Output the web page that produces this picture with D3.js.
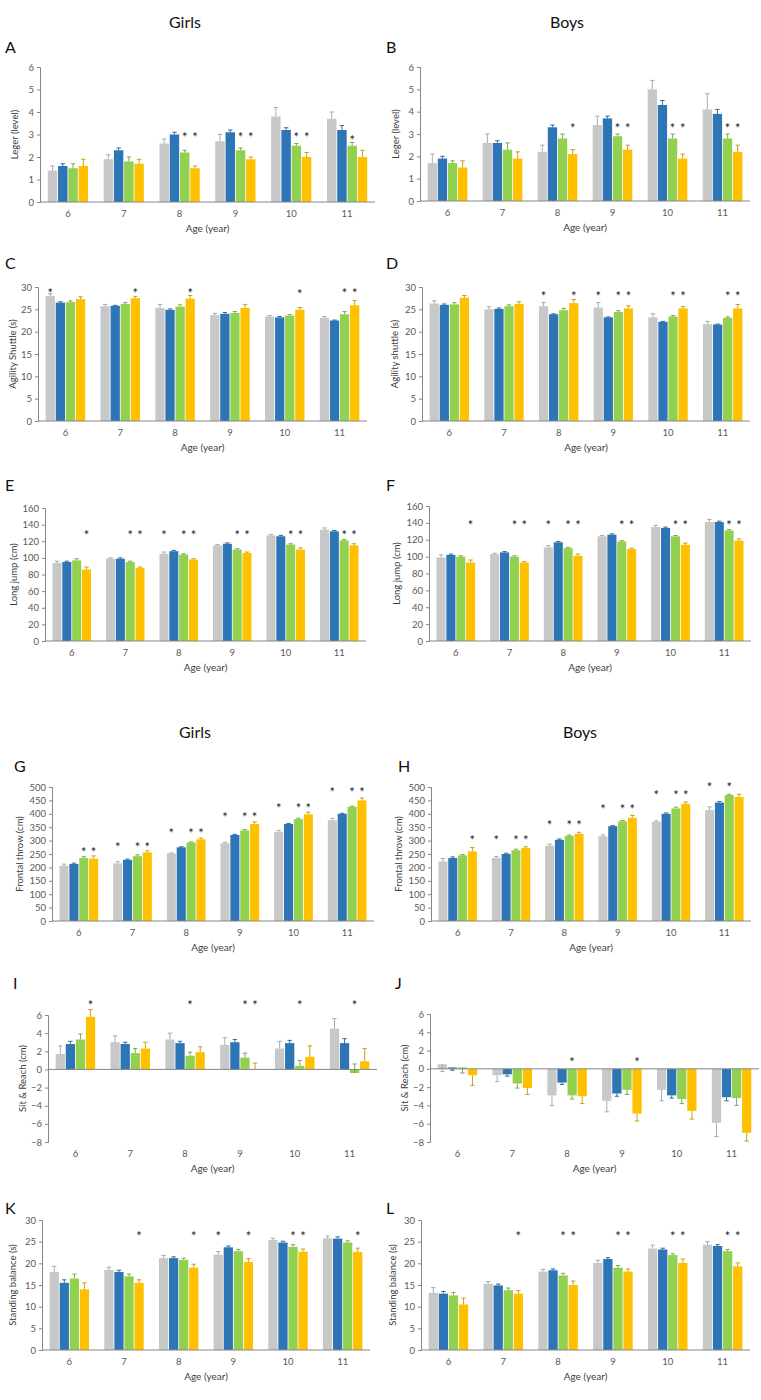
<!DOCTYPE html>
<html><head><meta charset="utf-8">
<script src="https://cdn.jsdelivr.net/npm/d3@7"></script>
<style>body{margin:0;background:#fff} text{font-family:Lato,"Open Sans",sans-serif}</style>
</head><body><svg id="c" width="761" height="1400"></svg>
<script>
// ---------- data ----------
const ages = ["6","7","8","9","10","11"];
const seriesColors = ["#c8c8c8","#2e75b6","#92d050","#ffc000"];
// series index: 0 gray, 1 blue, 2 green, 3 yellow

const legerTicks = [0,1,2,3,4,5,6];
const agilityTicks = [0,5,10,15,20,25,30];
const jumpTicks = [0,20,40,60,80,100,120,140,160];
const throwTicks = [0,50,100,150,200,250,300,350,400,450,500];
const reachTicks = [-8,-6,-4,-2,0,2,4,6];
const balanceTicks = [0,5,10,15,20,25,30];

// A: Girls Leger
const legerGirlsMean = [[1.4,1.6,1.5,1.6],[1.9,2.3,1.8,1.7],[2.6,3.0,2.2,1.5],[2.7,3.1,2.3,1.9],[3.8,3.2,2.5,2.0],[3.7,3.2,2.5,2.0]];
const legerGirlsErr  = [[0.2,0.1,0.2,0.3],[0.2,0.1,0.2,0.2],[0.2,0.1,0.1,0.1],[0.3,0.1,0.1,0.1],[0.4,0.1,0.1,0.2],[0.3,0.2,0.15,0.3]];
const legerGirlsSig  = [[2,2,3.0],[2,3,3.0],[3,2,3.0],[3,3,3.0],[4,2,3.0],[4,3,3.0],[5,2,2.85]];
// B: Boys Leger
const legerBoysMean = [[1.7,1.9,1.7,1.5],[2.6,2.6,2.3,1.9],[2.2,3.3,2.8,2.1],[3.4,3.7,2.9,2.3],[5.0,4.3,2.8,1.9],[4.1,3.9,2.8,2.2]];
const legerBoysErr  = [[0.4,0.1,0.1,0.3],[0.4,0.1,0.3,0.3],[0.3,0.1,0.2,0.2],[0.4,0.1,0.1,0.2],[0.4,0.2,0.2,0.2],[0.7,0.2,0.2,0.3]];
const legerBoysSig  = [[2,3,3.36],[3,2,3.36],[3,3,3.36],[4,2,3.36],[4,3,3.36],[5,2,3.36],[5,3,3.36]];
// C: Girls Agility
const agilityGirlsMean = [[28.0,26.5,26.6,27.3],[25.7,25.8,26.2,27.5],[25.3,24.9,25.6,27.4],[23.7,24.0,24.2,25.3],[23.4,23.2,23.6,24.9],[23.1,22.5,23.9,25.9]];
const agilityGirlsErr  = [[0.5,0.2,0.3,0.5],[0.4,0.1,0.3,0.4],[0.8,0.2,0.4,0.7],[0.4,0.3,0.3,0.8],[0.2,0.2,0.2,0.5],[0.3,0.1,0.6,1.1]];
const agilityGirlsSig  = [[0,0,29.3],[1,3,29.3],[2,3,29.3],[4,3,29.1],[5,2,29.3],[5,3,29.3]];
// D: Boys Agility
const agilityBoysMean = [[26.3,26.0,26.1,27.6],[25.0,25.1,25.7,26.2],[25.7,23.9,24.8,26.4],[25.4,23.2,24.4,25.2],[23.2,22.2,23.4,25.2],[21.7,21.6,23.1,25.2]];
const agilityBoysErr  = [[0.6,0.2,0.4,0.5],[0.6,0.2,0.3,0.5],[0.8,0.1,0.4,0.8],[1.1,0.1,0.3,0.6],[0.8,0.1,0.2,0.4],[0.6,0.1,0.2,0.9]];
const agilityBoysSig  = [[2,0,28.5],[2,3,28.5],[3,0,28.5],[3,2,28.5],[3,3,28.5],[4,2,28.5],[4,3,28.5],[5,2,28.5],[5,3,28.5]];
// E: Girls Long jump
const jumpGirlsMean = [[94,95,97,86],[99,99,95,88],[105,108,104,98],[115,117,110,106],[127,126,116,110],[134,132,121,115]];
const jumpGirlsErr  = [[2,1,2,3],[1,1,1,1],[2,1,1,1],[1,1,1,1],[1,1,1,2],[2,1,1,2]];
const jumpGirlsSig  = [[0,3,130],[1,2,130],[1,3,130],[2,0,130],[2,2,130],[2,3,130],[3,2,130],[3,3,130],[4,2,130],[4,3,130],[5,2,130],[5,3,130]];
// F: Boys Long jump
const jumpBoysMean = [[99,102,100,93],[103,105,100,93],[111,117,110,101],[124,126,118,109],[135,134,124,114],[141,141,131,119]];
const jumpBoysErr  = [[3,1,1,3],[1,1,1,1],[2,1,1,2],[1,1,1,1],[2,1,1,2],[3,1,1,2]];
const jumpBoysSig  = [[0,3,140],[1,2,140],[1,3,140],[2,0,140],[2,2,140],[2,3,140],[3,2,140],[3,3,140],[4,2,140],[4,3,140],[5,2,140],[5,3,140]];
// G: Girls Frontal throw
const throwGirlsMean = [[206,213,235,233],[215,228,242,256],[252,275,293,305],[290,321,338,362],[333,362,380,398],[376,400,426,450]];
const throwGirlsErr  = [[6,3,5,10],[6,3,5,6],[2,2,2,5],[4,2,3,8],[5,2,3,8],[7,2,2,9]];
const throwGirlsSig  = [[0,2,268],[0,3,268],[1,0,286],[1,2,286],[1,3,286],[2,0,336],[2,2,336],[2,3,336],[3,0,399],[3,2,399],[3,3,399],[4,0,430],[4,2,430],[4,3,430],[5,0,489],[5,2,489],[5,3,489]];
// H: Boys Frontal throw
const throwBoysMean = [[222,235,245,260],[236,250,264,272],[281,303,318,325],[316,354,372,385],[370,400,420,437],[414,442,470,463]];
const throwBoysErr  = [[11,4,3,14],[5,3,4,5],[6,3,3,6],[5,2,3,9],[4,3,5,7],[12,4,3,10]];
const throwBoysSig  = [[0,3,311],[1,0,311],[1,2,311],[1,3,311],[2,0,366],[2,2,366],[2,3,366],[3,0,426],[3,2,426],[3,3,426],[4,0,479],[4,2,479],[4,3,479],[5,0,511],[5,2,511]];
// I: Girls Sit & Reach (error bars drawn upward)
const reachGirlsMean = [[1.7,2.8,3.3,5.8],[3.0,2.8,1.8,2.3],[3.3,2.9,1.5,1.9],[2.7,3.0,1.3,0.0],[2.3,2.9,0.4,1.4],[4.5,2.9,-0.4,0.9]];
const reachGirlsErr  = [[0.9,0.3,0.6,0.8],[0.7,0.2,0.5,0.7],[0.7,0.2,0.4,0.6],[0.8,0.3,0.5,0.7],[0.8,0.3,0.6,1.2],[1.1,0.5,1.0,1.4]];
const reachGirlsSig  = [[0,3,7.4],[2,2,7.4],[3,2,7.4],[3,3,7.4],[4,2,7.4],[5,2,7.4]];
// J: Boys Sit & Reach (error bars drawn downward)
const reachBoysMean = [[0.5,0.15,0.15,-0.7],[-0.7,-0.6,-1.6,-2.1],[-2.9,-1.5,-2.9,-3.0],[-3.5,-2.7,-2.3,-4.9],[-2.3,-2.9,-3.3,-4.6],[-5.9,-3.1,-3.2,-7.0]];
const reachBoysErr  = [[0.8,0.3,0.6,1.1],[0.7,0.2,0.5,0.7],[1.1,0.2,0.4,0.8],[1.2,0.3,0.5,0.8],[1.2,0.3,0.5,0.9],[1.5,0.4,0.8,0.9]];
const reachBoysSig  = [[2,2,1.0],[3,3,1.0]];
// K: Girls Standing balance
const balanceGirlsMean = [[18.0,15.5,16.5,14.0],[18.5,18.0,17.0,15.5],[21.2,21.2,20.8,19.0],[22.0,23.7,22.8,20.3],[25.4,24.8,23.8,22.7],[25.8,25.7,24.8,22.6]];
const balanceGirlsErr  = [[1.3,0.7,1.0,1.5],[0.6,0.4,0.5,0.7],[0.6,0.3,0.4,0.8],[0.7,0.3,0.4,0.8],[0.4,0.3,0.5,0.6],[0.5,0.4,0.4,0.9]];
const balanceGirlsSig  = [[1,3,27],[2,3,27],[3,0,27],[3,3,27],[4,2,27],[4,3,27],[5,3,27]];
// L: Boys Standing balance
const balanceBoysMean = [[13.2,13.0,12.6,10.5],[15.3,14.9,13.8,13.0],[18.1,18.4,17.2,15.0],[20.1,21.0,19.0,18.1],[23.4,23.2,21.9,20.1],[24.3,24.0,22.8,19.3]];
const balanceBoysErr  = [[1.2,0.5,0.7,1.5],[0.5,0.3,0.5,0.7],[0.5,0.3,0.5,0.9],[0.6,0.3,0.5,0.6],[0.8,0.3,0.3,0.9],[0.7,0.3,0.4,0.8]];
const balanceBoysSig  = [[1,3,27],[2,2,27],[2,3,27],[3,2,27],[3,3,27],[4,2,27],[4,3,27],[5,2,27],[5,3,27]];

// ---------- layout ----------
const panels = [
 {L:"A",lx:5,ly:53,x0:40,x1:375,yb:202,yt:67,dom:[0,6],ticks:legerTicks,mean:legerGirlsMean,err:legerGirlsErr,sig:legerGirlsSig,yl:"Leger (level)",ylx:15,dir:1},
 {L:"B",lx:386,ly:53,x0:420,x1:750,yb:201,yt:67,dom:[0,6],ticks:legerTicks,mean:legerBoysMean,err:legerBoysErr,sig:legerBoysSig,yl:"Leger (level)",ylx:396,dir:1},
 {L:"C",lx:5,ly:269,x0:38,x1:367,yb:421,yt:287,dom:[0,30],ticks:agilityTicks,mean:agilityGirlsMean,err:agilityGirlsErr,sig:agilityGirlsSig,yl:"Agility Shuttle (s)",ylx:13,dir:1},
 {L:"D",lx:386,ly:269,x0:422,x1:750,yb:421,yt:287,dom:[0,30],ticks:agilityTicks,mean:agilityBoysMean,err:agilityBoysErr,sig:agilityBoysSig,yl:"Agility shuttle (s)",ylx:395,dir:1},
 {L:"E",lx:5,ly:491,x0:45,x1:366,yb:641,yt:508,dom:[0,160],ticks:jumpTicks,mean:jumpGirlsMean,err:jumpGirlsErr,sig:jumpGirlsSig,yl:"Long jump (cm)",ylx:14,dir:1},
 {L:"F",lx:386,ly:491,x0:429,x1:751,yb:641,yt:506,dom:[0,160],ticks:jumpTicks,mean:jumpBoysMean,err:jumpBoysErr,sig:jumpBoysSig,yl:"Long jump (cm)",ylx:397,dir:1},
 {L:"G",lx:14,ly:772,x0:52,x1:374,yb:921,yt:787,dom:[0,500],ticks:throwTicks,mean:throwGirlsMean,err:throwGirlsErr,sig:throwGirlsSig,yl:"Frontal throw (cm)",ylx:20,dir:1},
 {L:"H",lx:398,ly:772,x0:431,x1:751,yb:921,yt:787,dom:[0,500],ticks:throwTicks,mean:throwBoysMean,err:throwBoysErr,sig:throwBoysSig,yl:"Frontal throw (cm)",ylx:399,dir:1},
 {L:"I",lx:13,ly:989,x0:48,x1:377,yb:1142,yt:1015,dom:[-8,6],ticks:reachTicks,mean:reachGirlsMean,err:reachGirlsErr,sig:reachGirlsSig,yl:"Sit & Reach (cm)",ylx:23,dir:1},
 {L:"J",lx:395,ly:989,x0:430,x1:759,yb:1142,yt:1014,dom:[-8,6],ticks:reachTicks,mean:reachBoysMean,err:reachBoysErr,sig:reachBoysSig,yl:"Sit & Reach (cm)",ylx:405,dir:-1},
 {L:"K",lx:5,ly:1214,x0:42,x1:370,yb:1350,yt:1220,dom:[0,30],ticks:balanceTicks,mean:balanceGirlsMean,err:balanceGirlsErr,sig:balanceGirlsSig,yl:"Standing balance (s)",ylx:13,dir:1},
 {L:"L",lx:386,ly:1214,x0:421,x1:750,yb:1350,yt:1220,dom:[0,30],ticks:balanceTicks,mean:balanceBoysMean,err:balanceBoysErr,sig:balanceBoysSig,yl:"Standing balance (s)",ylx:393,dir:1}
];
const titles = [{t:"Girls",x:185,y:28},{t:"Boys",x:567,y:28},{t:"Girls",x:195,y:738},{t:"Boys",x:580,y:738}];

const svg = d3.select("#c");
titles.forEach(t=>svg.append("text").attr("x",t.x).attr("y",t.y).attr("text-anchor","middle")
  .attr("font-size",16).attr("fill","#111").text(t.t));

const axisCol = "#868686", txtCol = "#595959";

panels.forEach(p=>{
  const g = svg.append("g");
  const x = d3.scaleBand().domain(ages).range([p.x0,p.x1]).paddingInner(0.25).paddingOuter(0.125);
  const xs = d3.scaleBand().domain(d3.range(4)).range([0,x.bandwidth()]).padding(0.08);
  const y = d3.scaleLinear().domain(p.dom).range([p.yb,p.yt]);
  const bars = [];
  ages.forEach((a,i)=>p.mean[i].forEach((v,s)=>bars.push({a,i,s,v,e:p.err[i][s]})));
  // bars
  g.selectAll("rect.bar").data(bars).join("rect")
    .attr("x",d=>x(d.a)+xs(d.s)).attr("width",xs.bandwidth())
    .attr("y",d=>Math.min(y(d.v),y(0))).attr("height",d=>Math.abs(y(d.v)-y(0)))
    .attr("fill",d=>seriesColors[d.s]);
  // error bars
  const cw = 2.2;
  const eg = g.selectAll("g.err").data(bars).join("g")
    .attr("stroke",d=>d3.color(seriesColors[d.s]).darker(d.s===0?0.6:0.7)).attr("stroke-width",0.9);
  eg.append("line").attr("x1",d=>x(d.a)+xs(d.s)+xs.bandwidth()/2).attr("x2",d=>x(d.a)+xs(d.s)+xs.bandwidth()/2)
    .attr("y1",d=>y(d.v)).attr("y2",d=>y(d.v+p.dir*d.e));
  eg.append("line").attr("x1",d=>x(d.a)+xs(d.s)+xs.bandwidth()/2-cw).attr("x2",d=>x(d.a)+xs(d.s)+xs.bandwidth()/2+cw)
    .attr("y1",d=>y(d.v+p.dir*d.e)).attr("y2",d=>y(d.v+p.dir*d.e));
  // significance stars
  g.selectAll("text.star").data(p.sig).join("text")
    .attr("x",d=>x(ages[d[0]])+xs(d[1])+xs.bandwidth()/2).attr("y",d=>y(d[2])+7.5)
    .attr("text-anchor","middle").attr("font-size",13).attr("fill","#222").text("*");
  // y axis
  const ya = g.append("g").attr("transform",`translate(${p.x0},0)`)
    .call(d3.axisLeft(y).tickValues(p.ticks).tickSize(3).tickPadding(3).tickFormat(d3.format("d")));
  ya.select(".domain").attr("stroke",axisCol);
  ya.selectAll(".tick line").attr("stroke",axisCol);
  ya.selectAll(".tick text").attr("fill",txtCol).attr("font-size",9.5).style("font-family","Lato,'Open Sans',sans-serif");
  // x axis labels
  const xa = g.append("g").attr("transform",`translate(0,${p.yb})`)
    .call(d3.axisBottom(x).tickSize(0).tickPadding(8));
  xa.select(".domain").remove();
  xa.selectAll(".tick text").attr("fill",txtCol).attr("font-size",9.5).style("font-family","Lato,'Open Sans',sans-serif");
  // zero line
  g.append("line").attr("x1",p.x0).attr("x2",p.x1).attr("y1",y(0)).attr("y2",y(0))
    .attr("stroke",axisCol).attr("stroke-width",1);
  // axis titles
  g.append("text").attr("x",(p.x0+p.x1)/2).attr("y",p.yb+30).attr("text-anchor","middle")
    .attr("font-size",10).attr("fill","#404040").text("Age (year)");
  g.append("text").attr("transform",`translate(${p.ylx},${(p.yt+p.yb)/2}) rotate(-90)`)
    .attr("text-anchor","middle").attr("dy","0.35em").attr("font-size",9.5).attr("fill","#404040").text(p.yl);
  // panel letter
  g.append("text").attr("x",p.lx).attr("y",p.ly).attr("font-size",16).attr("fill","#111").text(p.L);
});
</script></body></html>
